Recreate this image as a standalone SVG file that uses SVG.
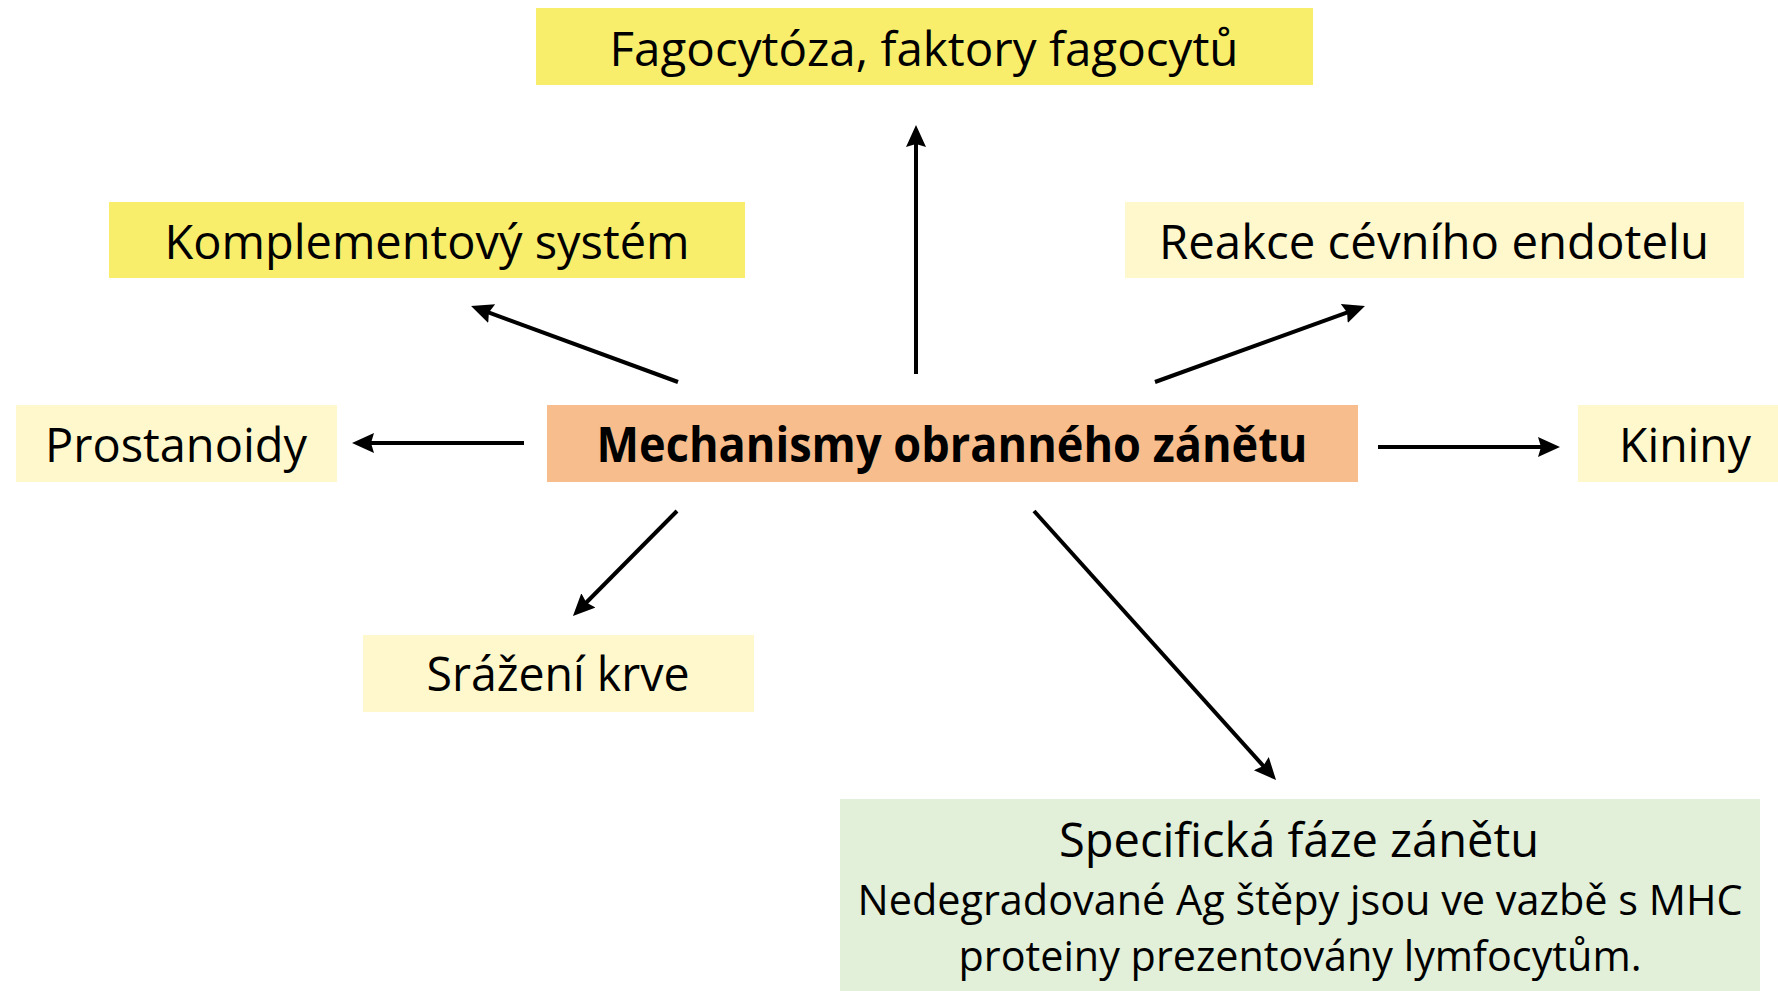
<svg xmlns="http://www.w3.org/2000/svg" width="1778" height="991" viewBox="0 0 1778 991">
<style>
.t{font-family:"Open Sans","Noto Sans","Liberation Sans",sans-serif;font-size:48px;fill:#000;text-anchor:middle}
.b{font-weight:bold}
.s{font-size:42px}
.y1{fill:#F8EE6C}
.y2{fill:#FFF8CC}
.o{fill:#F7BD8D}
.g{fill:#E2EFD9}
.c line{stroke:#000;stroke-width:4;fill:none}
</style>
<defs>
<marker id="ah" markerUnits="userSpaceOnUse" markerWidth="26" markerHeight="22" refX="10" refY="10" orient="auto">
<path d="M0,0 L22,10 L0,20 L3,10 z" fill="#000"/>
</marker>
</defs>
<rect width="1778" height="991" fill="#fff"/>
<g id="fagocytoza"><rect class="y1" x="536" y="8" width="777" height="77"/><text class="t" x="924" y="66" textLength="629" lengthAdjust="spacingAndGlyphs">Fagocytóza, faktory fagocytů</text></g>
<g id="komplement"><rect class="y1" x="109" y="202" width="636" height="76"/><text class="t" x="427" y="259" textLength="525" lengthAdjust="spacingAndGlyphs">Komplementový systém</text></g>
<g id="reakce"><rect class="y2" x="1125" y="202" width="619" height="76"/><text class="t" x="1434" y="259" textLength="550" lengthAdjust="spacingAndGlyphs">Reakce cévního endotelu</text></g>
<g id="prostanoidy"><rect class="y2" x="16" y="405" width="321" height="77"/><text class="t" x="176" y="462" textLength="262" lengthAdjust="spacingAndGlyphs">Prostanoidy</text></g>
<g id="mechanismy"><rect class="o" x="547" y="405" width="811" height="77"/><text class="t b" x="952" y="462" textLength="711" lengthAdjust="spacingAndGlyphs">Mechanismy obranného zánětu</text></g>
<g id="kininy"><rect class="y2" x="1578" y="405" width="200" height="77"/><text class="t" x="1685" y="462" textLength="132" lengthAdjust="spacingAndGlyphs">Kininy</text></g>
<g id="srazeni"><rect class="y2" x="363" y="635" width="391" height="77"/><text class="t" x="558" y="691" textLength="263" lengthAdjust="spacingAndGlyphs">Srážení krve</text></g>
<g id="specificka"><rect class="g" x="840" y="799" width="920" height="192"/>
<text class="t" x="1299" y="857" textLength="480" lengthAdjust="spacingAndGlyphs">Specifická fáze zánětu</text>
<text class="t s" x="1300" y="915" textLength="885" lengthAdjust="spacingAndGlyphs">Nedegradované Ag štěpy jsou ve vazbě s MHC</text>
<text class="t s" x="1300" y="971" textLength="683" lengthAdjust="spacingAndGlyphs">proteiny prezentovány lymfocytům.</text></g>
<g id="connectors" class="c">
<line x1="916" y1="374" x2="916" y2="137" marker-end="url(#ah)"/>
<line x1="678" y1="382" x2="482.3" y2="310.1" marker-end="url(#ah)"/>
<line x1="1155" y1="382" x2="1353.7" y2="310.1" marker-end="url(#ah)"/>
<line x1="524" y1="443" x2="364" y2="443" marker-end="url(#ah)"/>
<line x1="1378" y1="447" x2="1548" y2="447" marker-end="url(#ah)"/>
<line x1="677" y1="511" x2="581.4" y2="607.5" marker-end="url(#ah)"/>
<line x1="1034" y1="511" x2="1268" y2="771.1" marker-end="url(#ah)"/>
</g>
</svg>
